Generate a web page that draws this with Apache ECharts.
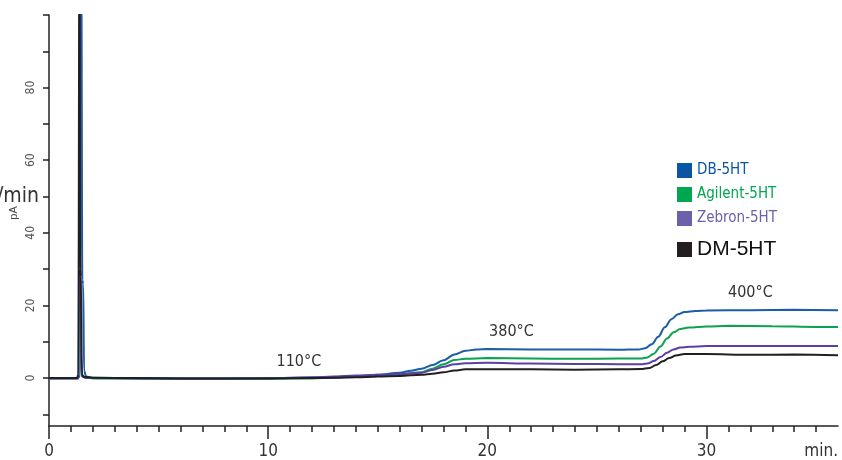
<!DOCTYPE html>
<html>
<head>
<meta charset="utf-8">
<script src="https://cdn.jsdelivr.net/npm/echarts@6/dist/echarts.min.js"></script>
<style>html,body{margin:0;padding:0;background:#fff}#c{width:842px;height:460px}</style>
</head>
<body>
<div id="c"></div>
<script>
// ---- data (time in min, signal in pA) ----
const seriesNames = ['DB-5HT', 'Agilent-5HT', 'Zebron-5HT', 'DM-5HT'];
const dbData = [[0,0],[1.3,0],[1.42,0.5],[1.47,130],[1.52,27],[1.56,26],[1.6,2],[1.7,0.4],[2,0.1],[4,0],[6,-0.1],[8,-0.1],[10,-0.1],[12,0.1],[13,0.3],[14,0.5],[15,0.9],[16,1.5],[16.5,2.0],[17,2.6],[17.5,3.6],[18,4.9],[18.5,6.5],[19,7.5],[19.5,7.9],[20,8.0],[22,7.9],[24,7.9],[26,7.8],[26.9,7.9],[27.2,8.2],[27.5,9.3],[27.8,11.4],[28.1,14.0],[28.4,16.2],[28.7,17.6],[29.0,18.2],[29.5,18.5],[30,18.6],[32,18.7],[34,18.8],[36,18.7]];
const agilentData = [[0,-0.1],[1.3,-0.1],[1.36,0],[1.4,130],[1.45,5],[1.5,0.5],[1.7,0.1],[2,-0.1],[4,-0.2],[6,-0.2],[8,-0.2],[10,-0.2],[12,-0.1],[13,0.1],[14,0.3],[15,0.6],[16,1.0],[17,1.6],[17.5,2.6],[18,3.8],[18.5,5.0],[19,5.3],[20,5.5],[22,5.4],[24,5.3],[26,5.4],[27,5.4],[27.3,5.7],[27.6,6.7],[27.9,8.7],[28.2,10.9],[28.5,12.6],[28.8,13.5],[29.2,13.9],[30,14.2],[31,14.4],[33,14.3],[35,14.1],[36,14.1]];
const zebronData = [[0,-0.1],[1.3,-0.1],[1.35,0],[1.4,130],[1.45,8],[1.5,0.5],[1.7,0.1],[2,0],[4,-0.1],[8,-0.1],[10,0],[12,0.2],[13,0.4],[14,0.7],[15,0.9],[16,1.2],[17,1.5],[17.5,2.2],[18,3.1],[18.5,3.8],[19,4.1],[20,4.2],[22,4.0],[24,3.9],[26,3.8],[27,3.8],[27.3,4.0],[27.6,4.7],[27.9,5.8],[28.2,7.0],[28.5,7.9],[28.8,8.4],[29.2,8.6],[30,8.8],[33,8.8],[36,8.8]];
const dmData = [[0,0],[1.28,0],[1.34,1],[1.39,130],[1.42,30],[1.45,28],[1.5,1],[1.6,0.3],[2,0.1],[4,0],[6,-0.1],[10,-0.1],[12,0],[13,0.1],[14,0.2],[15,0.4],[16,0.6],[17,0.9],[17.5,1.2],[18,1.6],[18.5,2.1],[19,2.4],[20,2.4],[22,2.4],[24,2.3],[26,2.4],[27,2.5],[27.4,2.8],[27.7,3.6],[28.0,4.6],[28.3,5.5],[28.6,6.2],[29,6.6],[30,6.6],[32,6.4],[34,6.5],[36,6.3]];
const xMinorTicks = [0,1,2,3,4,5,6,7,8,9,10,11,12,13,14,15,16,17,18,19,20,21,22,23,24,25,26,27,28,29,30,31,32,33,34,35];
const xMajorTicks = [0,10,20,30];
const xLabels = [0,10,20,30,36];
const yTicks = [-10,0,10,20,30,40,50,60,70,80,90,100];
const yLabels = [0,20,40,60,80];
const tempLabels = [['110°C',11.4,4.4],['380°C',21.1,12.6],['400°C',32.0,23.6]];

const lineColors = ['#1d5ca6','#0ca24f','#5d3ea4','#231f20'];
const legendColors = ['#0b55a3','#00a650','#6c60ad','#231f20'];
const narrow = '"Liberation Sans Narrow","DejaVu Sans Condensed",sans-serif';

const chart = echarts.init(document.getElementById('c'), null, {renderer:'canvas'});
const allData = [dbData, agilentData, zebronData, dmData];
const series = allData.map((d,i)=>({
  name: seriesNames[i], type:'line', data:d, showSymbol:false, symbol:'none',
  smooth:0.35, smoothMonotone:'x', clip:true,
  lineStyle:{color:lineColors[i], width:2}, itemStyle:{color:lineColors[i]},
  z: 2+i
}));
series[0].markPoint = {
  symbol:'rect', symbolSize:1, itemStyle:{color:'rgba(0,0,0,0)'},
  label:{show:true, position:'inside', formatter:p=>p.name, color:'#333', fontSize:16, fontFamily:narrow},
  data: tempLabels.map(t=>({name:t[0], coord:[t[1],t[2]]}))
};
const axisLineStyle = {color:'#222', width:1.5};
const gridBox = {left:49, right:4, top:15, bottom:33};
chart.setOption({
  animation:false,
  grid:[Object.assign({}, gridBox), Object.assign({}, gridBox)],
  legend:{
    orient:'vertical', left:677, top:163, padding:0, itemWidth:15, itemHeight:15, itemGap:9, icon:'rect',
    data: seriesNames.map((n,i)=>({name:n, itemStyle:{color:legendColors[i]},
      textStyle: i<3 ? {color:legendColors[i], fontSize:15, fontFamily:narrow, lineHeight:15}
                     : {color:'#111', fontSize:21, fontFamily:'"Liberation Sans",Arial,sans-serif', lineHeight:29}}))
  },
  xAxis:[{
    type:'value', gridIndex:0, min:0, max:36, position:'bottom',
    axisLine:{show:true, lineStyle:axisLineStyle, onZero:false},
    axisTick:{show:true, customValues:xMinorTicks, length:6, lineStyle:axisLineStyle},
    axisLabel:{customValues:xLabels, formatter:v=> v===36?'min.':String(v), color:'#333', fontSize:17, fontFamily:narrow, margin:17, alignMaxLabel:'right'},
    splitLine:{show:false}
  },{
    type:'value', gridIndex:1, min:0, max:36, position:'bottom',
    axisLine:{show:false, onZero:false},
    axisTick:{show:true, customValues:xMajorTicks, length:12, lineStyle:axisLineStyle},
    axisLabel:{show:false}, splitLine:{show:false}
  }],
  yAxis:[{
    type:'value', gridIndex:0, min:-13.2, max:100,
    axisLine:{show:true, lineStyle:axisLineStyle, onZero:false},
    axisTick:{show:true, customValues:yTicks, length:6, lineStyle:axisLineStyle},
    axisLabel:{customValues:yLabels, rotate:90, color:'#555', fontSize:12, fontFamily:narrow, margin:12},
    splitLine:{show:false}
  },{
    type:'value', gridIndex:1, min:-13.2, max:100, show:false
  }],
  graphic:[
    {type:'text', left:-3, top:186, style:{text:'/min', fontSize:21, fontFamily:narrow, fill:'#333'}},
    {type:'text', x:14, y:213, rotation:Math.PI/2, style:{text:'pA', fontSize:11, fontFamily:'"Liberation Sans",sans-serif', fill:'#444', align:'center', verticalAlign:'middle'}}
  ],
  series: series
});
</script>
</body>
</html>
